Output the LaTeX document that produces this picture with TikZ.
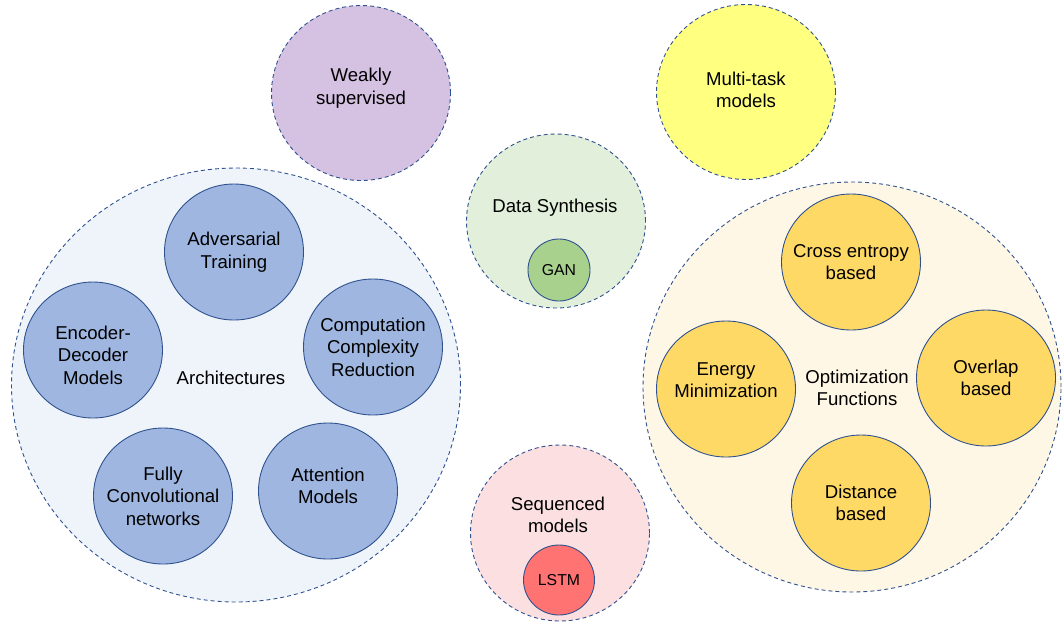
\documentclass[tikz,border=0pt]{standalone}
\usepackage{fontspec}
\setmainfont{Liberation Sans}
\usetikzlibrary{shapes.geometric}

\definecolor{borde}{RGB}{47,82,143}
\definecolor{lila}{RGB}{213,193,226}
\definecolor{amarillo}{RGB}{255,255,128}
\definecolor{verdeclaro}{RGB}{226,239,218}
\definecolor{verde}{RGB}{169,209,142}
\definecolor{rosa}{RGB}{252,224,225}
\definecolor{rojo}{RGB}{255,115,115}
\definecolor{azulclaro}{RGB}{239,244,251}
\definecolor{azul}{RGB}{158,182,224}
\definecolor{cremita}{RGB}{255,247,230}
\definecolor{oro}{RGB}{255,217,102}

\begin{document}
\begin{tikzpicture}[x=1pt,y=-1pt,
    grupo/.style={ellipse,draw=borde,line width=0.9pt,dash pattern=on 4pt off 3pt,inner sep=0pt},
    metodo/.style={ellipse,draw=borde,line width=0.9pt,inner sep=0pt,minimum width=139pt,minimum height=136pt},
    texto/.style={align=center,inner sep=0pt,font=\fontsize{18.6}{22.5}\selectfont},
    chico/.style={align=center,inner sep=0pt,font=\fontsize{15.8}{18}\selectfont}]
    \useasboundingbox (0,0) rectangle (1062,622);

    % Dibuja los grupos de arriba
    \node[grupo,fill=lila,minimum width=179pt,minimum height=175pt,label={[texto,yshift=5pt]center:Weakly\\supervised}] (weak) at (361,93) {};
    \node[grupo,fill=amarillo,minimum width=179pt,minimum height=175pt,label={[texto,yshift=2pt]center:Multi-task\\models}] (multi) at (746,92) {};

    % Dibuja la sintesis de datos
    \node[grupo,fill=verdeclaro,minimum width=179pt,minimum height=174pt] (synth) at (556,221) {};
    \node[texto] (synthtxt) at (555,208) {Data Synthesis};
    \node[metodo,fill=verde,minimum width=62pt,minimum height=62pt,label={[chico]center:GAN}] (gan) at (559,270) {};

    % Dibuja los modelos secuenciales
    \node[grupo,fill=rosa,minimum width=179pt,minimum height=176pt] (seq) at (560,533) {};
    \node[texto] (seqtxt) at (558,515) {Sequenced\\models};
    \node[metodo,fill=rojo,minimum width=71pt,minimum height=70pt,label={[chico]center:LSTM}] (lstm) at (559,580) {};

    % Dibuja las arquitecturas
    \node[grupo,fill=azulclaro,minimum width=449pt,minimum height=434pt] (arch) at (236,385) {};
    \node[texto] (archtxt) at (231,378) {Architectures};
    \node[metodo,fill=azul,label={[texto]center:Adversarial\\Training}] (adv) at (234,252) {};
    \node[metodo,fill=azul,label={[texto,yshift=-5pt]center:Encoder-\\Decoder\\Models}] (encdec) at (93,350) {};
    \node[metodo,fill=azul,label={[texto]center:Computation\\Complexity\\Reduction}] (comp) at (373,347) {};
    \node[metodo,fill=azul,label={[texto]center:Fully\\Convolutional\\networks}] (fcn) at (163,496) {};
    \node[metodo,fill=azul,label={[texto,yshift=5pt]center:Attention\\Models}] (att) at (328,491) {};

    % Dibuja las funciones de optimizacion
    \node[grupo,fill=cremita,minimum width=418pt,minimum height=410pt] (optim) at (852,387) {};
    \node[texto] (optimtxt) at (857,388) {Optimization\\Functions};
    \node[metodo,fill=oro,label={[texto]center:Cross entropy\\based}] (xent) at (851,262) {};
    \node[metodo,fill=oro,label={[texto,yshift=9pt]center:Energy\\Minimization}] (energy) at (726,389) {};
    \node[metodo,fill=oro,label={[texto]center:Overlap\\based}] (overlap) at (986,378) {};
    \node[metodo,fill=oro,label={[texto]center:Distance\\based}] (dist) at (861,503) {};
\end{tikzpicture}
\end{document}
